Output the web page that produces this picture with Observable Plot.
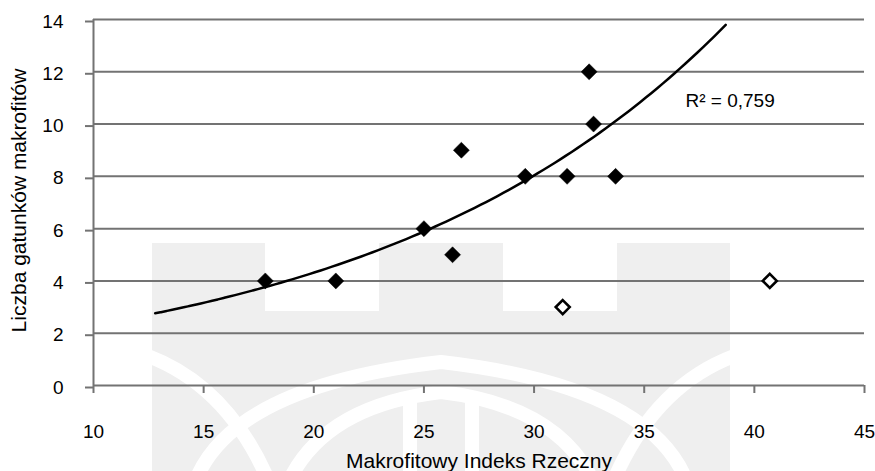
<!DOCTYPE html>
<html>
<head>
<meta charset="utf-8">
<script src="https://cdn.jsdelivr.net/npm/d3@7"></script>
<script src="https://cdn.jsdelivr.net/npm/@observablehq/plot@0.6"></script>
<style>
  html, body { margin: 0; padding: 0; background: #fff; }
  #wrap { position: relative; width: 875px; height: 471px; font-family: "Liberation Sans", Arial, sans-serif; }
  #wm { position: absolute; left: 0; top: 0; }
  #chart { position: absolute; left: 0; top: 0; }
  #chart svg { background: transparent; }
</style>
</head>
<body>
<div id="wrap">
  <svg id="wm" width="875" height="471" viewBox="0 0 875 471">
    <path d="M152,243H265V311H379V243H503V311H617V243H730V471H152Z" fill="#efefef"/>
    <g fill="none" stroke="#fff" stroke-width="14">
      <path d="M148,356 Q225,385 266,475"/>
      <path d="M734,356 Q657,385 616,475"/>
      <path d="M198,475 Q240,385 441,362 Q642,385 684,475"/>
      <path d="M292,475 Q330,405 441,392 Q552,405 590,475"/>
    </g>
    <g fill="#fff">
      <rect x="403" y="400" width="14" height="71"/>
      <rect x="465" y="400" width="14" height="71"/>
    </g>
  </svg>
  <div id="chart"></div>
</div>
<script>
const xTicks = [10, 15, 20, 25, 30, 35, 40, 45];
const yTicks = [0, 2, 4, 6, 8, 10, 12, 14];
const filledX = [17.8, 21.0, 25.0, 26.3, 26.7, 29.6, 31.5, 32.5, 32.7, 33.7];
const filledY = [4, 4, 6, 5, 9, 8, 8, 12, 10, 8];
const openX = [31.3, 40.7];
const openY = [3, 4];
const xTitle = "Makrofitowy Indeks Rzeczny";
const yTitle = "Liczba gatunków makrofitów";
const r2Label = "R² = 0,759";
const r2Pos = {x: 38.9, y: 10.88};
const trendExtend = 5; // forecast backward / forward

const filled = filledX.map((x, i) => ({x, y: filledY[i]}));
const open = openX.map((x, i) => ({x, y: openY[i]}));

// Exponential trendline fitted on the filled points (least squares on ln y)
const mx = d3.mean(filled, d => d.x);
const my = d3.mean(filled, d => Math.log(d.y));
const sxy = d3.sum(filled, d => (d.x - mx) * (Math.log(d.y) - my));
const sxx = d3.sum(filled, d => (d.x - mx) ** 2);
const b = sxy / sxx;
const a = Math.exp(my - b * mx);
const x0 = d3.min(filledX) - trendExtend, x1 = d3.max(filledX) + trendExtend;
const trend = d3.range(0, 101).map(i => {
  const x = x0 + (x1 - x0) * i / 100;
  return {x, y: a * Math.exp(b * x)};
});

const grey = "#737373";
const font = "Liberation Sans, Arial, sans-serif";

const chart = Plot.plot({
  width: 875,
  height: 471,
  marginLeft: 93,
  marginRight: 11,
  marginTop: 19,
  marginBottom: 86,
  style: {fontFamily: font, background: "transparent", overflow: "visible"},
  x: {domain: [10, 45]},
  y: {domain: [0, 14]},
  marks: [
    Plot.ruleY(yTicks, {x1: 10, x2: 45, stroke: grey, strokeWidth: 2}),
    Plot.ruleX([10], {y1: 0, y2: 14, stroke: grey, strokeWidth: 2}),
    Plot.axisY({ticks: yTicks, tickSize: 8, tickPadding: 22, stroke: grey, strokeWidth: 2, color: "#000", fontSize: 19, dy: 2, label: null}),
    Plot.axisX({ticks: xTicks, tickSize: 8, tickPadding: 31, stroke: grey, strokeWidth: 2, color: "#000", fontSize: 19, label: null}),
    Plot.line(trend, {x: "x", y: "y", stroke: "#000", strokeWidth: 2.5, curve: "natural"}),
    Plot.dot(filled, {x: "x", y: "y", symbol: "diamond2", r: 7.2, fill: "#000", stroke: "#000", strokeWidth: 0.5}),
    Plot.dot(open, {x: "x", y: "y", symbol: "diamond2", r: 6.3, fill: "#fff", stroke: "#000", strokeWidth: 2.6}),
    Plot.text([r2Label], {x: r2Pos.x, y: r2Pos.y, text: d => d, fontSize: 19, fill: "#000", textAnchor: "middle"}),
    Plot.text([xTitle], {frameAnchor: "bottom", text: d => d, textAnchor: "middle", lineAnchor: "middle", dy: 75.3, fontSize: 21, fill: "#000"}),
    Plot.text([yTitle], {frameAnchor: "left", text: d => d, textAnchor: "middle", lineAnchor: "middle", rotate: -90, dx: -74.5, dy: -2, fontSize: 21, fill: "#000"})
  ]
});
document.getElementById("chart").appendChild(chart);
</script>
</body>
</html>
